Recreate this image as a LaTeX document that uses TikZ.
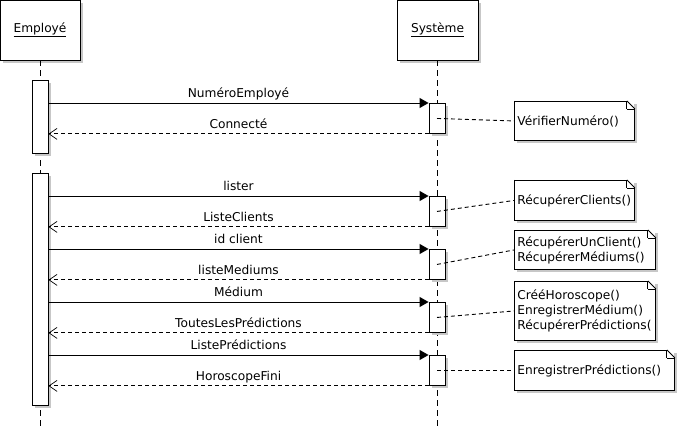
\documentclass[tikz,border=0pt]{standalone}
\usepackage{fontspec}
\setmainfont{DejaVu Sans}
\usetikzlibrary{arrows.meta,positioning,shadows}

\begin{document}
\begin{tikzpicture}[
    x=1pt, y=-1pt,
    font=\fontsize{12.2}{15}\selectfont,
    line width=0.9pt,
    shadowed/.style={
      drop shadow={shadow xshift=3pt,shadow yshift=-3pt,fill=black!22,opacity=1}
    },
    actor/.style={draw,fill=white,shadowed,minimum width=80pt,minimum height=60pt,inner sep=0pt},
    lifeline/.style={dash pattern=on 6pt off 4pt},
    activation/.style={draw,fill=white,shadowed,minimum width=16pt,inner sep=0pt,anchor=north},
    callarrow/.style={-{Triangle[length=9pt,width=10pt]}},
    returnarrow/.style={dash pattern=on 4pt off 3pt,-{Straight Barb[length=8pt,width=11pt,line width=0.7pt]}},
    msg/.style={above,inner sep=2.5pt,text height=9pt,text depth=2.5pt},
    notelink/.style={dash pattern=on 4pt off 3pt},
    notebox/.style={
      fill=white,shadowed,anchor=north west,align=left,inner sep=3pt,
      append after command={\pgfextra{\let\notenode\tikzlastnode}
        (\notenode.north west) edge (\notenode.south west)
        (\notenode.south west) edge (\notenode.south east)
        (\notenode.south east) edge ([yshift=-8pt]\notenode.north east)
        ([yshift=-8pt]\notenode.north east) edge ([xshift=-8pt]\notenode.north east)
        ([xshift=-8pt]\notenode.north east) edge (\notenode.north west)
        ([xshift=-8pt]\notenode.north east) edge ([xshift=-8pt,yshift=-8pt]\notenode.north east)
        ([xshift=-8pt,yshift=-8pt]\notenode.north east) edge ([yshift=-8pt]\notenode.north east)
      }
    }
  ]
  \useasboundingbox (0,0) rectangle (679,430);

  % objects and lifelines
  \node[actor] (emp) at (40,30) {\underline{Employé}};
  \node[actor,minimum width=81pt] (sys) at (437.5,30) {\underline{Système}};
  \coordinate (empEnd) at (40,428);
  \coordinate (sysEnd) at (437.5,428);
  \draw[lifeline] (emp) -- (empEnd);
  \draw[lifeline] (sys) -- (sysEnd);

  % activations
  \node[activation,minimum height=73pt] (ea1) at (40,80) {};
  \node[activation,minimum height=232pt] (ea2) at (40,173) {};
  \node[activation,minimum height=30pt] (sa1) at (437,103) {};
  \node[activation,minimum height=30pt] (sa2) at (437,196) {};
  \node[activation,minimum height=30pt] (sa3) at (437,249) {};
  \node[activation,minimum height=30pt] (sa4) at (437,302) {};
  \node[activation,minimum height=30pt] (sa5) at (437,355) {};

  % messages
  \draw[callarrow] (ea1.east |- sa1.north) -- node[msg] {NuméroEmployé} (sa1.north west);
  \draw[returnarrow] (sa1.south west) -- node[msg] {Connecté} (ea1.east |- sa1.south);
  \draw[callarrow] (ea2.east |- sa2.north) -- node[msg] {lister} (sa2.north west);
  \draw[returnarrow] (sa2.south west) -- node[msg] {ListeClients} (ea2.east |- sa2.south);
  \draw[callarrow] (ea2.east |- sa3.north) -- node[msg] {id client} (sa3.north west);
  \draw[returnarrow] (sa3.south west) -- node[msg] {listeMediums} (ea2.east |- sa3.south);
  \draw[callarrow] (ea2.east |- sa4.north) -- node[msg] {Médium} (sa4.north west);
  \draw[returnarrow] (sa4.south west) -- node[msg] {ToutesLesPrédictions} (ea2.east |- sa4.south);
  \draw[callarrow] (ea2.east |- sa5.north) -- node[msg] {ListePrédictions} (sa5.north west);
  \draw[returnarrow] (sa5.south west) -- node[msg] {HoroscopeFini} (ea2.east |- sa5.south);

  % notes
  \node[notebox,text width=114pt,minimum height=39pt] (n1) at (514,101) {VérifierNuméro()};
  \node[notebox,text width=114pt,minimum height=40pt] (n2) at (514,180) {RécupérerClients()};
  \node[notebox,text width=135pt,minimum height=39pt] (n3) at (514,230)
    {RécupérerUnClient()\\RécupérerMédiums()};
  \node[notebox,text width=135pt,minimum height=59pt] (n4) at (514,281)
    {CrééHoroscope()\\EnregistrerMédium()\\RécupérerPrédictions(};
  \node[notebox,text width=154pt,minimum height=40pt] (n5) at (514,350) {EnregistrerPrédictions()};

  \draw[notelink] (sa1.center) -- (n1.west);
  \draw[notelink] (sa2.center) -- (n2.west);
  \draw[notelink] (sa3.center) -- (n3.west);
  \draw[notelink] (sa4.center) -- (n4.west);
  \draw[notelink] (sa5.center) -- (n5.west);
\end{tikzpicture}
\end{document}
